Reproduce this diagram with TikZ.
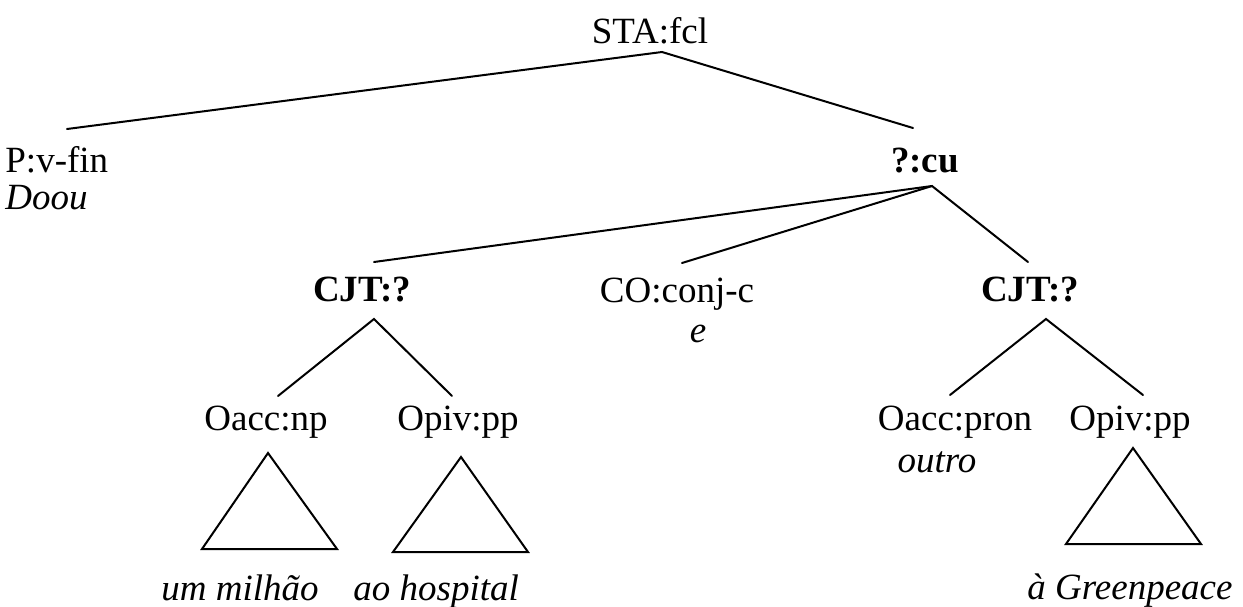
\documentclass[tikz,border=0pt]{standalone}
\usepackage{fontspec}
\setmainfont{Liberation Serif}
\newcommand{\treefont}{\fontsize{18.5}{22}\selectfont}
\tikzset{lab/.style={inner sep=0pt,anchor=base,font=\treefont},
  word/.style={lab,font=\treefont\itshape},
  head/.style={lab,font=\treefont\bfseries},
  branch/.style={line width=1pt,line cap=round},
  roof/.style={line width=1pt,line join=miter}}

\begin{document}
\begin{tikzpicture}[x=0.5pt,y=-0.5pt]
\useasboundingbox (0,0) rectangle (1243,606);
% labels
\node[lab] (sta) at (650,43) {STA:fcl};
\node[lab,anchor=base west] (pvfin) at (5,172) {P:v-fin};
\node[word,anchor=base west] (doou) at (5,209) {Doou};
\node[head] (cu) at (925,172) {?:cu};
\node[head] (cjtl) at (362,301) {CJT:?};
\node[lab] (co) at (677,302) {CO:conj-c};
\node[word] (e) at (698,342) {e};
\node[head] (cjtr) at (1030,301) {CJT:?};
\node[lab] (oaccnp) at (266,430) {Oacc:np};
\node[lab] (opivl) at (458,430) {Opiv:pp};
\node[lab] (oaccpron) at (955,430) {Oacc:pron};
\node[word] (outro) at (937,472) {outro};
\node[lab] (opivr) at (1130,430) {Opiv:pp};
\node[word] (milhao) at (240,600) {um milhão};
\node[word,anchor=base west] (hospital) at (353,600) {ao hospital};
\node[word] (greenpeace) at (1130,599) {à Greenpeace};
% branch ends
\coordinate (sta-foot) at (662,52);
\coordinate (pvfin-top) at (67,129);
\coordinate (cu-top) at (913,128);
\coordinate (cu-foot) at (932,186);
\coordinate (cjtl-top) at (374,262);
\coordinate (co-top) at (682,263);
\coordinate (cjtr-top) at (1028,262);
\coordinate (cjtl-foot) at (374,319);
\coordinate (oaccnp-top) at (278,396);
\coordinate (opivl-top) at (452,396);
\coordinate (cjtr-foot) at (1046,319);
\coordinate (oaccpron-top) at (950,395);
\coordinate (opivr-top) at (1143,395);
\draw[branch] (pvfin-top) -- (sta-foot) -- (cu-top);
\draw[branch] (cjtl-top) -- (cu-foot) -- (cjtr-top);
\draw[branch] (cu-foot) -- (co-top);
\draw[branch] (oaccnp-top) -- (cjtl-foot) -- (opivl-top);
\draw[branch] (oaccpron-top) -- (cjtr-foot) -- (opivr-top);
% roofs
\draw[roof] (268,453) -- (202,549) -- (337,549) -- cycle;
\draw[roof] (461,457) -- (393,552) -- (528,552) -- cycle;
\draw[roof] (1133,448) -- (1066,544) -- (1201,544) -- cycle;
\end{tikzpicture}
\end{document}
